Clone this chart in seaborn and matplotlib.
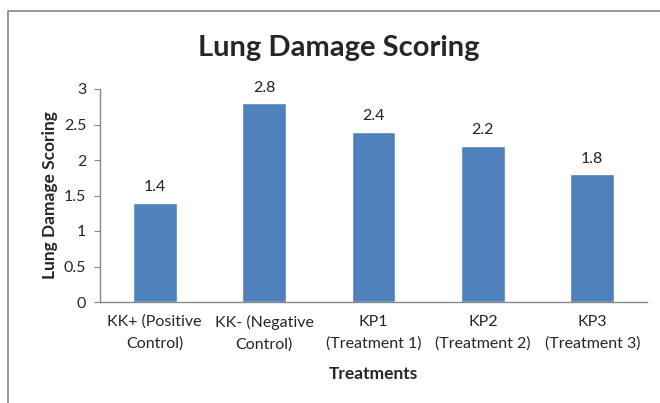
import numpy as np
import pandas as pd
import matplotlib
matplotlib.use("Agg")
import matplotlib.pyplot as plt
import seaborn as sns
from matplotlib.patches import Rectangle

# ===== data =====
treatments = ["KK+ (Positive\nControl)", "KK- (Negative\nControl)",
              "KP1\n(Treatment 1)", "KP2\n(Treatment 2)", "KP3\n(Treatment 3)"]
scores = [1.4, 2.8, 2.4, 2.2, 1.8]
y_ticks = [0, 0.5, 1, 1.5, 2, 2.5, 3]
y_tick_labels = ["0", "0.5", "1", "1.5", "2", "2.5", "3"]

df = pd.DataFrame({"treatment": treatments, "score": scores})

sns.set_style("white")
plt.rcParams['font.family'] = ['Lato', 'DejaVu Sans']

fig = plt.figure(figsize=(6.6, 4.03), dpi=100)
# chart border, like an excel chart area
fig.patches.append(Rectangle((8 / 660, -0.05), 1.2, 1 - 11 / 403 + 0.05,
                             transform=fig.transFigure, fill=False,
                             edgecolor='#868686', linewidth=1.2))

ax = fig.add_axes([100 / 660, 1 - 302 / 403, 547 / 660, 213 / 403])
sns.barplot(data=df, x="treatment", y="score", color='#4F81BD',
            saturation=1, width=0.4, ax=ax)

for i, v in enumerate(scores):
    ax.text(i, v + 0.12, f"{v}", ha='center', va='bottom', fontsize=11.5, color='#222222')

ax.set_xlim(-0.5, len(scores) - 0.5)
ax.set_ylim(0, 3)
ax.set_yticks(y_ticks)
ax.set_yticklabels(y_tick_labels, fontsize=11.5)
ax.tick_params(axis='x', labelsize=11.5, length=0, pad=9)
for lbl in ax.get_xticklabels():
    lbl.set_linespacing(1.7)
ax.tick_params(axis='y', length=4, color='#868686', direction='out', left=True, pad=6)

for s in ['top', 'right']:
    ax.spines[s].set_visible(False)
for s in ['left', 'bottom']:
    ax.spines[s].set_color('#868686')
    ax.spines[s].set_linewidth(1)

ax.set_xlabel("Treatments", fontsize=12.5, fontweight='bold', labelpad=10)
ax.set_ylabel("Lung Damage Scoring", fontsize=12.5, fontweight='bold', labelpad=4)
fig.text(339 / 660, 1 - 56 / 403, "Lung Damage Scoring", ha='center', va='baseline',
         fontsize=21, fontweight='bold')

fig.savefig("out.png", dpi=100)
